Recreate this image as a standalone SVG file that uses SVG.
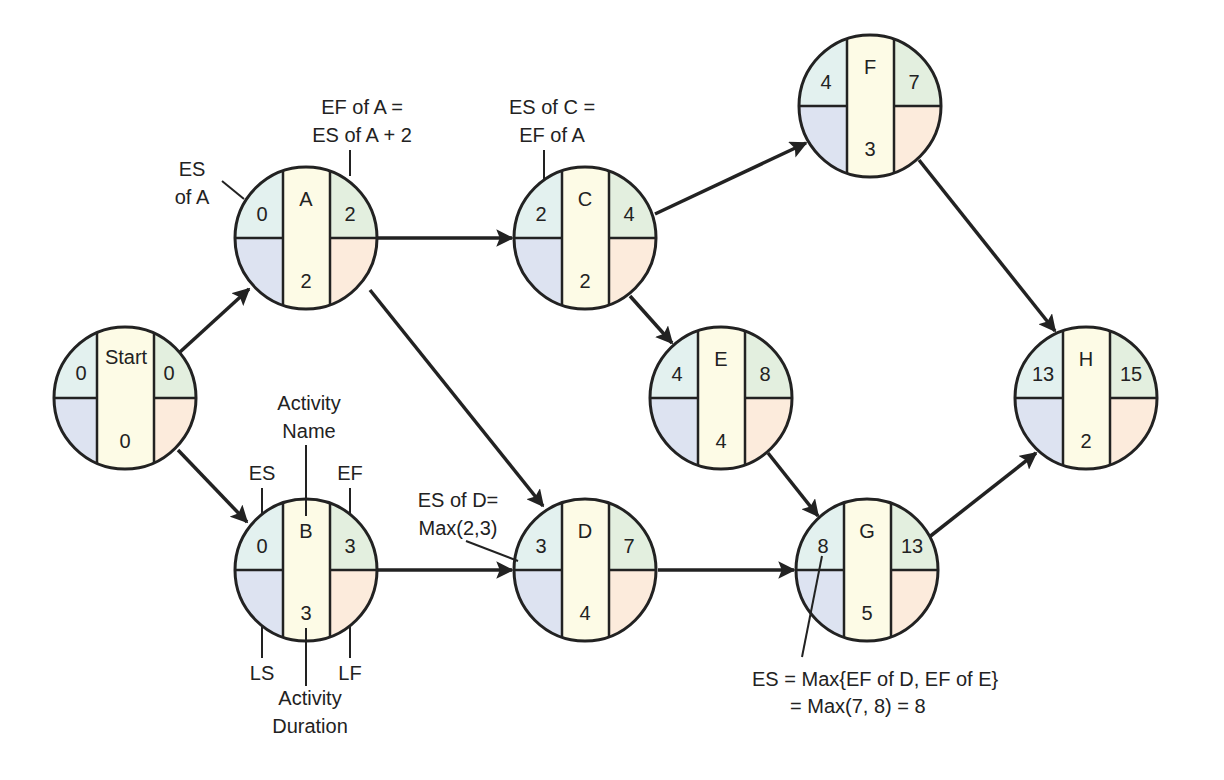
<svg xmlns="http://www.w3.org/2000/svg" width="1224" height="780" viewBox="0 0 1224 780">
<style>
text{font-family:"Liberation Sans",Arial,sans-serif;font-size:20px;fill:#222;text-anchor:middle}
.o{fill:none;stroke:#222;stroke-width:3}
.l{stroke:#222;stroke-width:2;fill:none}
.c{stroke:#222;stroke-width:3.5;fill:none;marker-end:url(#ah)}
</style>
<defs>
<marker id="ah" viewBox="0 0 10 10" refX="9" refY="5" markerWidth="5" markerHeight="5" orient="auto" markerUnits="strokeWidth"><path d="M0,0L10,5L0,10L2,5Z" fill="#222"/></marker>
<clipPath id="cc"><circle cx="0" cy="0" r="71"/></clipPath>
<g id="nd">
<g clip-path="url(#cc)">
<rect x="-71" y="-71" width="71" height="71" fill="#e3f1ef"/>
<rect x="-71" y="0" width="71" height="71" fill="#dde3f1"/>
<rect x="0" y="-71" width="71" height="71" fill="#e3efdf"/>
<rect x="0" y="0" width="71" height="71" fill="#fcebdc"/>
<rect x="-23" y="-71" width="47" height="142" fill="#fdfbe6"/>
<path class="l" d="M-23,-71V71M24,-71V71M-71,0H-23M24,0H71" style="stroke-width:2.5"/>
</g>
<circle class="o" r="71"/>
</g>
<g id="nds">
<g clip-path="url(#cc)">
<rect x="-71" y="-71" width="71" height="71" fill="#e3f1ef"/>
<rect x="-71" y="0" width="71" height="71" fill="#dde3f1"/>
<rect x="0" y="-71" width="71" height="71" fill="#e3efdf"/>
<rect x="0" y="0" width="71" height="71" fill="#fcebdc"/>
<rect x="-28" y="-71" width="57" height="142" fill="#fdfbe6"/>
<path class="l" d="M-28,-71V71M29,-71V71M-71,0H-28M29,0H71" style="stroke-width:2.5"/>
</g>
<circle class="o" r="71"/>
</g>
</defs>
<g id="connectors">
<line class="c" x1="180" y1="352" x2="249" y2="289"/>
<line class="c" x1="178" y1="450" x2="247" y2="522"/>
<line class="c" x1="378" y1="238" x2="512" y2="238"/>
<line class="c" x1="370" y1="290" x2="543" y2="506"/>
<line class="c" x1="378" y1="570" x2="512" y2="570"/>
<line class="c" x1="630" y1="296" x2="672" y2="343"/>
<line class="c" x1="655" y1="214" x2="806" y2="143"/>
<line class="c" x1="919" y1="160" x2="1055" y2="331"/>
<line class="c" x1="768" y1="453" x2="818" y2="516"/>
<line class="c" x1="658" y1="570" x2="794" y2="570"/>
<line class="c" x1="928" y1="538" x2="1036" y2="453"/>
</g>
<g id="Start"><use href="#nds" x="125" y="398"/><text x="81" y="380">0</text><text x="126" y="364">Start</text><text x="169" y="380">0</text><text x="125" y="448">0</text></g>
<g id="A"><use href="#nd" x="306" y="238"/><text x="262" y="221">0</text><text x="306" y="206">A</text><text x="350" y="221">2</text><text x="306" y="288">2</text></g>
<g id="B"><use href="#nd" x="306" y="570"/><text x="262" y="553">0</text><text x="306" y="538">B</text><text x="350" y="553">3</text><text x="306" y="620">3</text></g>
<g id="C"><use href="#nd" x="585" y="238"/><text x="541" y="221">2</text><text x="585" y="206">C</text><text x="629" y="221">4</text><text x="585" y="288">2</text></g>
<g id="D"><use href="#nd" x="585" y="570"/><text x="541" y="553">3</text><text x="585" y="538">D</text><text x="629" y="553">7</text><text x="585" y="620">4</text></g>
<g id="E"><use href="#nd" x="721" y="398"/><text x="677" y="381">4</text><text x="721" y="366">E</text><text x="765" y="381">8</text><text x="721" y="448">4</text></g>
<g id="F"><use href="#nd" x="870" y="106"/><text x="826" y="89">4</text><text x="870" y="74">F</text><text x="914" y="89">7</text><text x="870" y="156">3</text></g>
<g id="G"><use href="#nd" x="867" y="570"/><text x="823" y="553">8</text><text x="867" y="538">G</text><text x="912" y="553">13</text><text x="867" y="620">5</text></g>
<g id="H"><use href="#nd" x="1086" y="398"/><text x="1043" y="381">13</text><text x="1086" y="366">H</text><text x="1131" y="381">15</text><text x="1086" y="448">2</text></g>
<g id="annotations">
<text x="192" y="176">ES</text><text x="192" y="204">of A</text>
<line class="l" x1="222" y1="181" x2="244" y2="199"/>
<text x="362" y="114">EF of A =</text><text x="362" y="142">ES of A + 2</text>
<line class="l" x1="350" y1="150" x2="350" y2="176"/>
<text x="552" y="114">ES of C =</text><text x="552" y="142">EF of A</text>
<line class="l" x1="544" y1="150" x2="544" y2="180"/>
<text x="309" y="410">Activity</text><text x="309" y="438">Name</text>
<line class="l" x1="306" y1="445" x2="306" y2="516"/>
<text x="262" y="480">ES</text><line class="l" x1="262" y1="488" x2="262" y2="514"/>
<text x="350" y="480">EF</text><line class="l" x1="350" y1="488" x2="350" y2="514"/>
<text x="262" y="680">LS</text><line class="l" x1="262" y1="626" x2="262" y2="658"/>
<text x="350" y="680">LF</text><line class="l" x1="350" y1="626" x2="350" y2="658"/>
<line class="l" x1="306" y1="628" x2="306" y2="686"/>
<text x="310" y="705">Activity</text><text x="310" y="733">Duration</text>
<text x="458" y="507">ES of D=</text><text x="458" y="535">Max(2,3)</text>
<line class="l" x1="466" y1="541" x2="518" y2="561"/>
<line class="l" x1="822" y1="556" x2="802" y2="657"/>
<text x="752" y="686" style="text-anchor:start">ES = Max{EF of D, EF of E}</text>
<text x="790" y="713" style="text-anchor:start">= Max(7, 8) = 8</text>
</g>
</svg>
